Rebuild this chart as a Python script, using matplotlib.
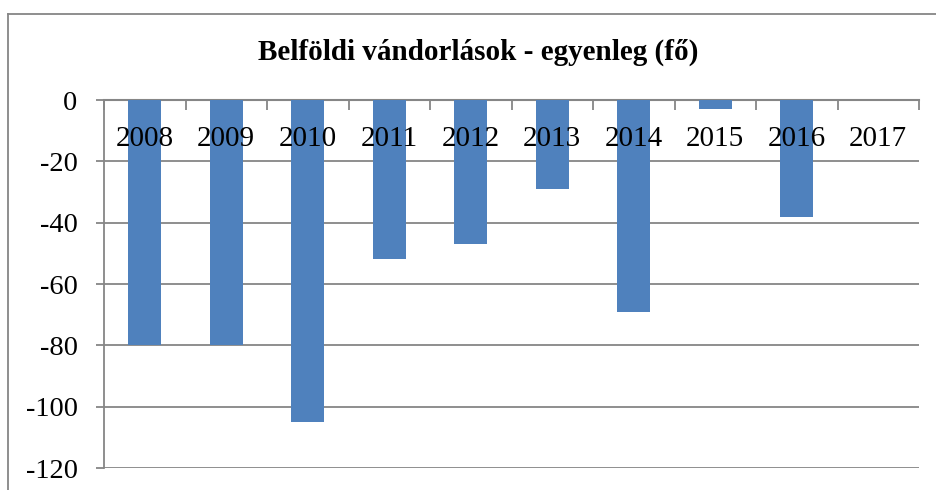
import numpy as np
import matplotlib.pyplot as plt
from matplotlib.lines import Line2D

years = ["2008", "2009", "2010", "2011", "2012", "2013", "2014", "2015", "2016", "2017"]
balance = [-80, -80, -105, -52, -47, -29, -69, -3, -38, 0]
y_ticks = [0, -20, -40, -60, -80, -100, -120]

W, H = 937, 490
grid_color = "#868686"
bar_color = "#4F81BD"

plt.rcParams["font.family"] = ["Liberation Serif", "DejaVu Serif"]

fig = plt.figure(figsize=(W / 100, H / 100), dpi=100)
ax = fig.add_axes([104 / W, 1 - 468 / H, (919 - 104) / W, (468 - 100) / H])

x = np.arange(len(years))
ax.bar(x, balance, width=0.41, color=bar_color, zorder=3)

ax.set_xlim(-0.5, len(years) - 0.5)
ax.set_ylim(-120, 0)
ax.set_yticks(y_ticks)
ax.set_yticklabels([str(v) for v in y_ticks], fontsize=20.5)
ax.yaxis.grid(True, color=grid_color, linewidth=1.3, zorder=0)

# x axis sits on the zero line at the top, ticks between categories
ax.set_xticks(np.arange(len(years) + 1) - 0.5)
ax.tick_params(axis="x", bottom=False, top=True, labelbottom=False, labeltop=False,
               direction="in", length=7, width=1.3, color=grid_color)
ax.tick_params(axis="y", direction="out", length=6, width=1.3, color=grid_color, pad=13)
for i, yr in enumerate(years):
    ax.text(i, -15.0, yr, ha="center", va="baseline", fontsize=21, zorder=4)

for side in ["right", "bottom"]:
    ax.spines[side].set_visible(False)
ax.spines["top"].set_color(grid_color)
ax.spines["top"].set_linewidth(1.5)
ax.spines["left"].set_color(grid_color)
ax.spines["left"].set_linewidth(1.3)

fig.text((257 + 700) / 2 / W, 1 - 52 / H, "Belföldi vándorlások - egyenleg (fő)",
         ha="center", va="center", fontsize=21, fontweight="bold")

# outer chart frame (only left and top edges are in view)
fig.add_artist(Line2D([8 / W, 8 / W], [0, 1 - 14 / H], transform=fig.transFigure,
                      color=grid_color, linewidth=1.3))
fig.add_artist(Line2D([8 / W, 1], [1 - 14 / H, 1 - 14 / H], transform=fig.transFigure,
                      color=grid_color, linewidth=1.3))

fig.savefig("out.png", dpi=100)
